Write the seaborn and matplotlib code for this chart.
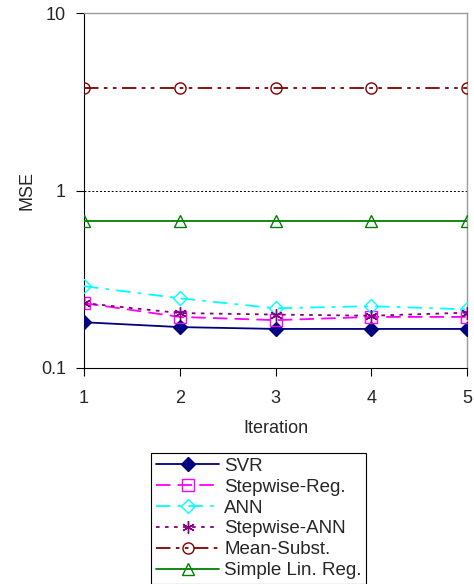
import matplotlib
matplotlib.use("Agg")
import matplotlib.pyplot as plt
import seaborn as sns
import pandas as pd
from matplotlib.ticker import FixedLocator, NullLocator, FixedFormatter

iterations = [1, 2, 3, 4, 5]
svr = [0.181, 0.170, 0.166, 0.166, 0.166]
stepwise_reg = [0.232, 0.194, 0.186, 0.194, 0.194]
ann = [0.289, 0.247, 0.217, 0.223, 0.214]
stepwise_ann = [0.232, 0.204, 0.200, 0.197, 0.205]
mean_subst = [3.8, 3.8, 3.8, 3.8, 3.8]
simple_lin = [0.67, 0.67, 0.67, 0.67, 0.67]

series_names = ["SVR", "Stepwise-Reg.", "ANN", "Stepwise-ANN", "Mean-Subst.", "Simple Lin. Reg."]
series_values = [svr, stepwise_reg, ann, stepwise_ann, mean_subst, simple_lin]

sns.set_style("white")
plt.rcParams["font.family"] = ["Liberation Sans", "DejaVu Sans"]

rows = []
for name, vals in zip(series_names, series_values):
    for it, v in zip(iterations, vals):
        rows.append({"Iteration": it, "MSE": v, "Series": name})
df = pd.DataFrame(rows)

styles = {
    "SVR": dict(color="#000080", marker="D", mfc="#000080", dashes=None, ms=7),
    "Stepwise-Reg.": dict(color="#FF00FF", marker="s", mfc="none", dashes=(8, 4), ms=8),
    "ANN": dict(color="#00FFFF", marker="D", mfc="none", dashes=(8, 4, 2, 4), ms=7),
    "Stepwise-ANN": dict(color="#800080", marker=(6, 2, 0), mfc="none", dashes=(2, 3), ms=9),
    "Mean-Subst.": dict(color="#800000", marker="o", mfc="none", dashes=(8, 3, 2, 3, 2, 3), ms=8),
    "Simple Lin. Reg.": dict(color="#008000", marker="^", mfc="none", dashes=None, ms=8),
}

fig = plt.figure(figsize=(4.74, 5.84), dpi=100)
ax = fig.add_axes([84/474, 1-368/584, (467-84)/474, (368-13)/584])

ax.axhline(1, color="black", lw=0.7, ls=(0, (2, 2)), zorder=1)

for name in series_names:
    st = styles[name]
    sub = df[df["Series"] == name]
    sns.lineplot(data=sub, x="Iteration", y="MSE", ax=ax, color=st["color"],
                 marker=st["marker"], markerfacecolor=st["mfc"], markeredgecolor=st["color"],
                 markersize=st["ms"], markeredgewidth=1.0, lw=1.3, label=name, zorder=3)
    line = ax.get_lines()[-1]
    if st["dashes"] is not None:
        line.set_dashes(st["dashes"])

ax.set_yscale("log")
ax.set_ylim(0.1, 10)
ax.set_xlim(1, 5)
ax.yaxis.set_major_locator(FixedLocator([0.1, 1, 10]))
ax.yaxis.set_major_formatter(FixedFormatter(["0.1", "1", "10"]))
ax.yaxis.set_minor_locator(NullLocator())
ax.set_xticks(iterations)
ax.set_xticklabels([str(i) for i in iterations])

for s in ["left", "bottom"]:
    ax.spines[s].set_color("black")
    ax.spines[s].set_linewidth(0.8)
for s in ["top", "right"]:
    ax.spines[s].set_color("#999999")
    ax.spines[s].set_linewidth(1.0)

ax.tick_params(axis="both", direction="out", length=6, width=0.8, color="black",
               labelsize=13, left=True, bottom=True)
ax.tick_params(axis="y", pad=7)
ax.tick_params(axis="x", pad=10)
ax.set_xlabel("Iteration", fontsize=13, labelpad=9)
ax.set_ylabel("MSE", fontsize=13, labelpad=4)

ax.get_legend().remove()
handles, labels = ax.get_legend_handles_labels()
leg = fig.legend(handles, labels, loc="upper left", bbox_to_anchor=(151/474, 1-453/584),
                 frameon=True, fancybox=False, edgecolor="black", framealpha=1,
                 fontsize=13.5, handlelength=3.4, handletextpad=0.25, labelspacing=0.2,
                 borderpad=0.25, borderaxespad=0)
leg.get_frame().set_linewidth(0.8)

fig.savefig("out.png", dpi=100)
